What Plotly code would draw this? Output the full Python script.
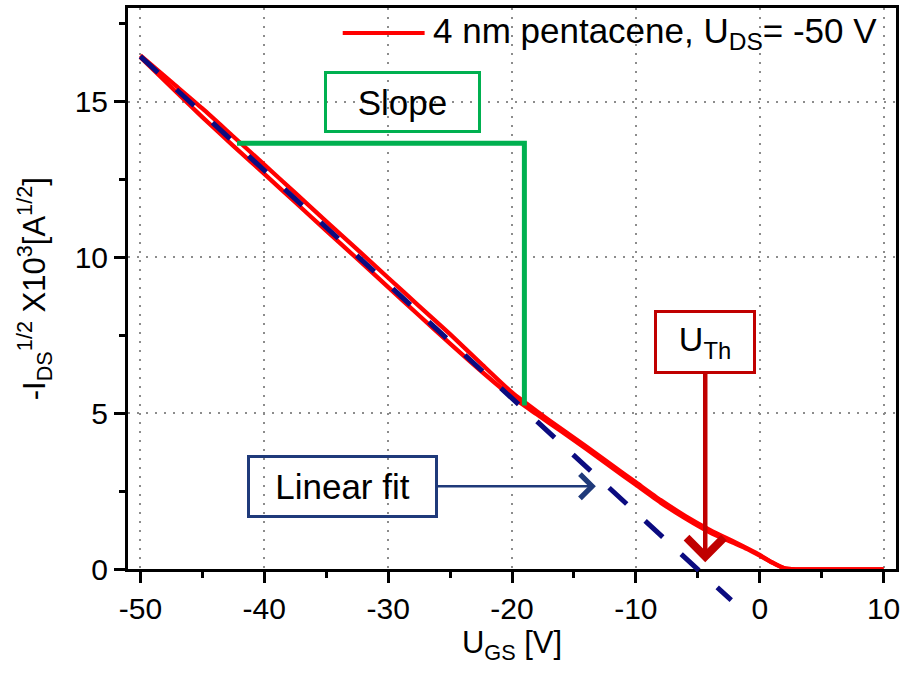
import plotly.graph_objects as go

# ---------------- data ----------------
ugs = [-50, -47.5, -45, -42.5, -40, -37.5, -35, -32.5, -30, -27.5, -25, -22.5, -20,
       -18, -16, -14, -12, -10, -8, -6, -4, -2, -1, 0, 1, 2, 3, 5, 7.5, 10]
sqrt_ids_sweep1 = [16.48, 15.63, 14.78, 13.88, 12.98, 12.07, 11.16, 10.26, 9.35, 8.44, 7.54, 6.60, 5.67,
                   5.07, 4.50, 3.94, 3.36, 2.79, 2.22, 1.71, 1.26, 0.87, 0.67, 0.46, 0.22, 0.03, 0, 0, 0, 0]
sqrt_ids_sweep2 = [16.42, 15.46, 14.50, 13.58, 12.68, 11.77, 10.86, 9.96, 9.05, 8.14, 7.24, 6.36, 5.53,
                   4.97, 4.42, 3.86, 3.28, 2.71, 2.14, 1.63, 1.18, 0.83, 0.65, 0.44, 0.22, 0.03, 0, 0, 0, 0]

fit_x = [-50, -2.3]
fit_y = [16.45, -0.99]

slope_x = [-42.2, -19.0, -19.0]
slope_y = [13.66, 13.66, 5.25]

x_ticks = [-50, -40, -30, -20, -10, 0, 10]
x_tick_labels = ["-50", "-40", "-30", "-20", "-10", "0", "10"]
y_ticks = [0, 5, 10, 15]
y_tick_labels = ["0", "5", "10", "15"]

legend_text = "4 nm pentacene, U<sub>DS</sub>= -50 V"
x_title = "U<sub>GS</sub> [V]"
y_title = "-I<sub>DS</sub><sup>1/2</sup> X10<sup>3</sup>[A<sup>1/2</sup>]"

# ---------------- layout geometry ----------------
W, H = 905, 673
X_RANGE = [-51, 11]
Y_RANGE = [0, 18]
Y_EXT = [-1.4, 0]          # strip below the axis where the fit line continues
M_L, M_R, M_T = 128, 8, 5
main_h = 564
px_per_unit = main_h / (Y_RANGE[1] - Y_RANGE[0])
ext_h = (Y_EXT[1] - Y_EXT[0]) * px_per_unit
total_h = main_h + ext_h
M_B = H - M_T - total_h
split = ext_h / total_h

FONT = "Liberation Sans, Arial, sans-serif"
RED = "#ff0000"
NAVY = "#0b0b80"
GREEN = "#00b050"
DARKRED = "#c00000"
BOXBLUE = "#1f3a7a"

fig = go.Figure()

fit_line = dict(color=NAVY, width=5, dash="24px,25px")
red_line = dict(color=RED, width=4.3, shape="spline", smoothing=0.6)

fig.add_trace(go.Scatter(x=ugs, y=sqrt_ids_sweep1, mode="lines", line=red_line,
                         showlegend=False, xaxis="x", yaxis="y"))
fig.add_trace(go.Scatter(x=ugs, y=sqrt_ids_sweep2, mode="lines", line=red_line,
                         showlegend=False, xaxis="x", yaxis="y"))
fig.add_trace(go.Scatter(x=slope_x, y=slope_y, mode="lines",
                         line=dict(color=GREEN, width=5), showlegend=False,
                         xaxis="x", yaxis="y"))
fig.add_trace(go.Scatter(x=fit_x, y=fit_y, mode="lines", line=fit_line,
                         showlegend=False, xaxis="x", yaxis="y"))
# same fit line, shown in a strip below the axis (the reference draws it past y = 0)
fig.add_trace(go.Scatter(x=fit_x, y=fit_y, mode="lines", line=fit_line,
                         showlegend=False, xaxis="x2", yaxis="y2", hoverinfo="skip"))

axis_common = dict(
    showline=True, linewidth=3, linecolor="black", mirror=True,
    ticks="outside", ticklen=11, tickwidth=2.5, tickcolor="black",
    showgrid=True, gridcolor="#8c8c8c", griddash="1.5px,7.5px", gridwidth=1.5,
    zeroline=False,
    tickfont=dict(family=FONT, size=30, color="black"),
)

fig.update_layout(
    width=W, height=H,
    margin=dict(l=M_L, r=M_R, t=M_T, b=M_B, pad=0),
    paper_bgcolor="white", plot_bgcolor="white",
    font=dict(family=FONT, color="black"),
    showlegend=False,
    xaxis=dict(range=X_RANGE, domain=[0, 1], anchor="y",
               tickmode="array", tickvals=x_ticks, ticktext=x_tick_labels,
               minor=dict(ticks="outside", ticklen=6, tickwidth=2.5, tickcolor="black",
                          dtick=5, tick0=0, showgrid=False),
               title=dict(text=x_title, font=dict(family=FONT, size=31), standoff=4),
               **axis_common),
    yaxis=dict(range=Y_RANGE, domain=[split, 1], anchor="x",
               tickmode="array", tickvals=y_ticks, ticktext=y_tick_labels,
               minor=dict(ticks="outside", ticklen=6, tickwidth=2.5, tickcolor="black",
                          dtick=2.5, tick0=0, showgrid=False),
               title=dict(text=y_title, font=dict(family=FONT, size=31), standoff=20),
               **axis_common),
    xaxis2=dict(range=X_RANGE, domain=[0, 1], anchor="y2", visible=False),
    yaxis2=dict(range=Y_EXT, domain=[0, split], anchor="x2", visible=False),
)

# legend drawn by hand (long line sample like the reference)
leg_y = (569 - 30) / 564
fig.add_shape(type="line", xref="x domain", yref="y domain",
              x0=(343 - M_L) / 769, x1=(425 - M_L) / 769, y0=leg_y, y1=leg_y,
              line=dict(color=RED, width=4))
fig.add_annotation(xref="x domain", yref="y domain", x=(431 - M_L) / 769, y=leg_y,
                   xanchor="left", yanchor="middle", showarrow=False,
                   text=legend_text, font=dict(family=FONT, size=35, color="black"))

# Slope box
fig.add_annotation(x=-28.88, y=14.97, xref="x", yref="y", text="Slope", showarrow=False,
                   bordercolor=GREEN, borderwidth=3, borderpad=0, width=151, height=56,
                   font=dict(family=FONT, size=35, color="black"))

# Linear fit box with arrow
fig.add_annotation(x=-13.23, y=2.665, ax=-33.71, ay=2.665, xref="x", yref="y",
                   axref="x", ayref="y", text="Linear fit", showarrow=True,
                   arrowhead=4, arrowsize=1.8, arrowwidth=2.6, arrowcolor=BOXBLUE,
                   bordercolor=BOXBLUE, borderwidth=3, borderpad=0, width=185, height=57,
                   font=dict(family=FONT, size=35, color="black"))

# Threshold voltage box with arrow
fig.add_annotation(x=-4.4, y=0.23, ax=-4.4, ay=7.28, xref="x", yref="y",
                   axref="x", ayref="y", text="U<sub>Th</sub>", showarrow=True,
                   arrowhead=4, arrowsize=1.6, arrowwidth=4.5, arrowcolor=DARKRED,
                   bordercolor=DARKRED, borderwidth=3, borderpad=0, width=96, height=58,
                   font=dict(family=FONT, size=34, color="black"))

fig.write_html("out.html")
